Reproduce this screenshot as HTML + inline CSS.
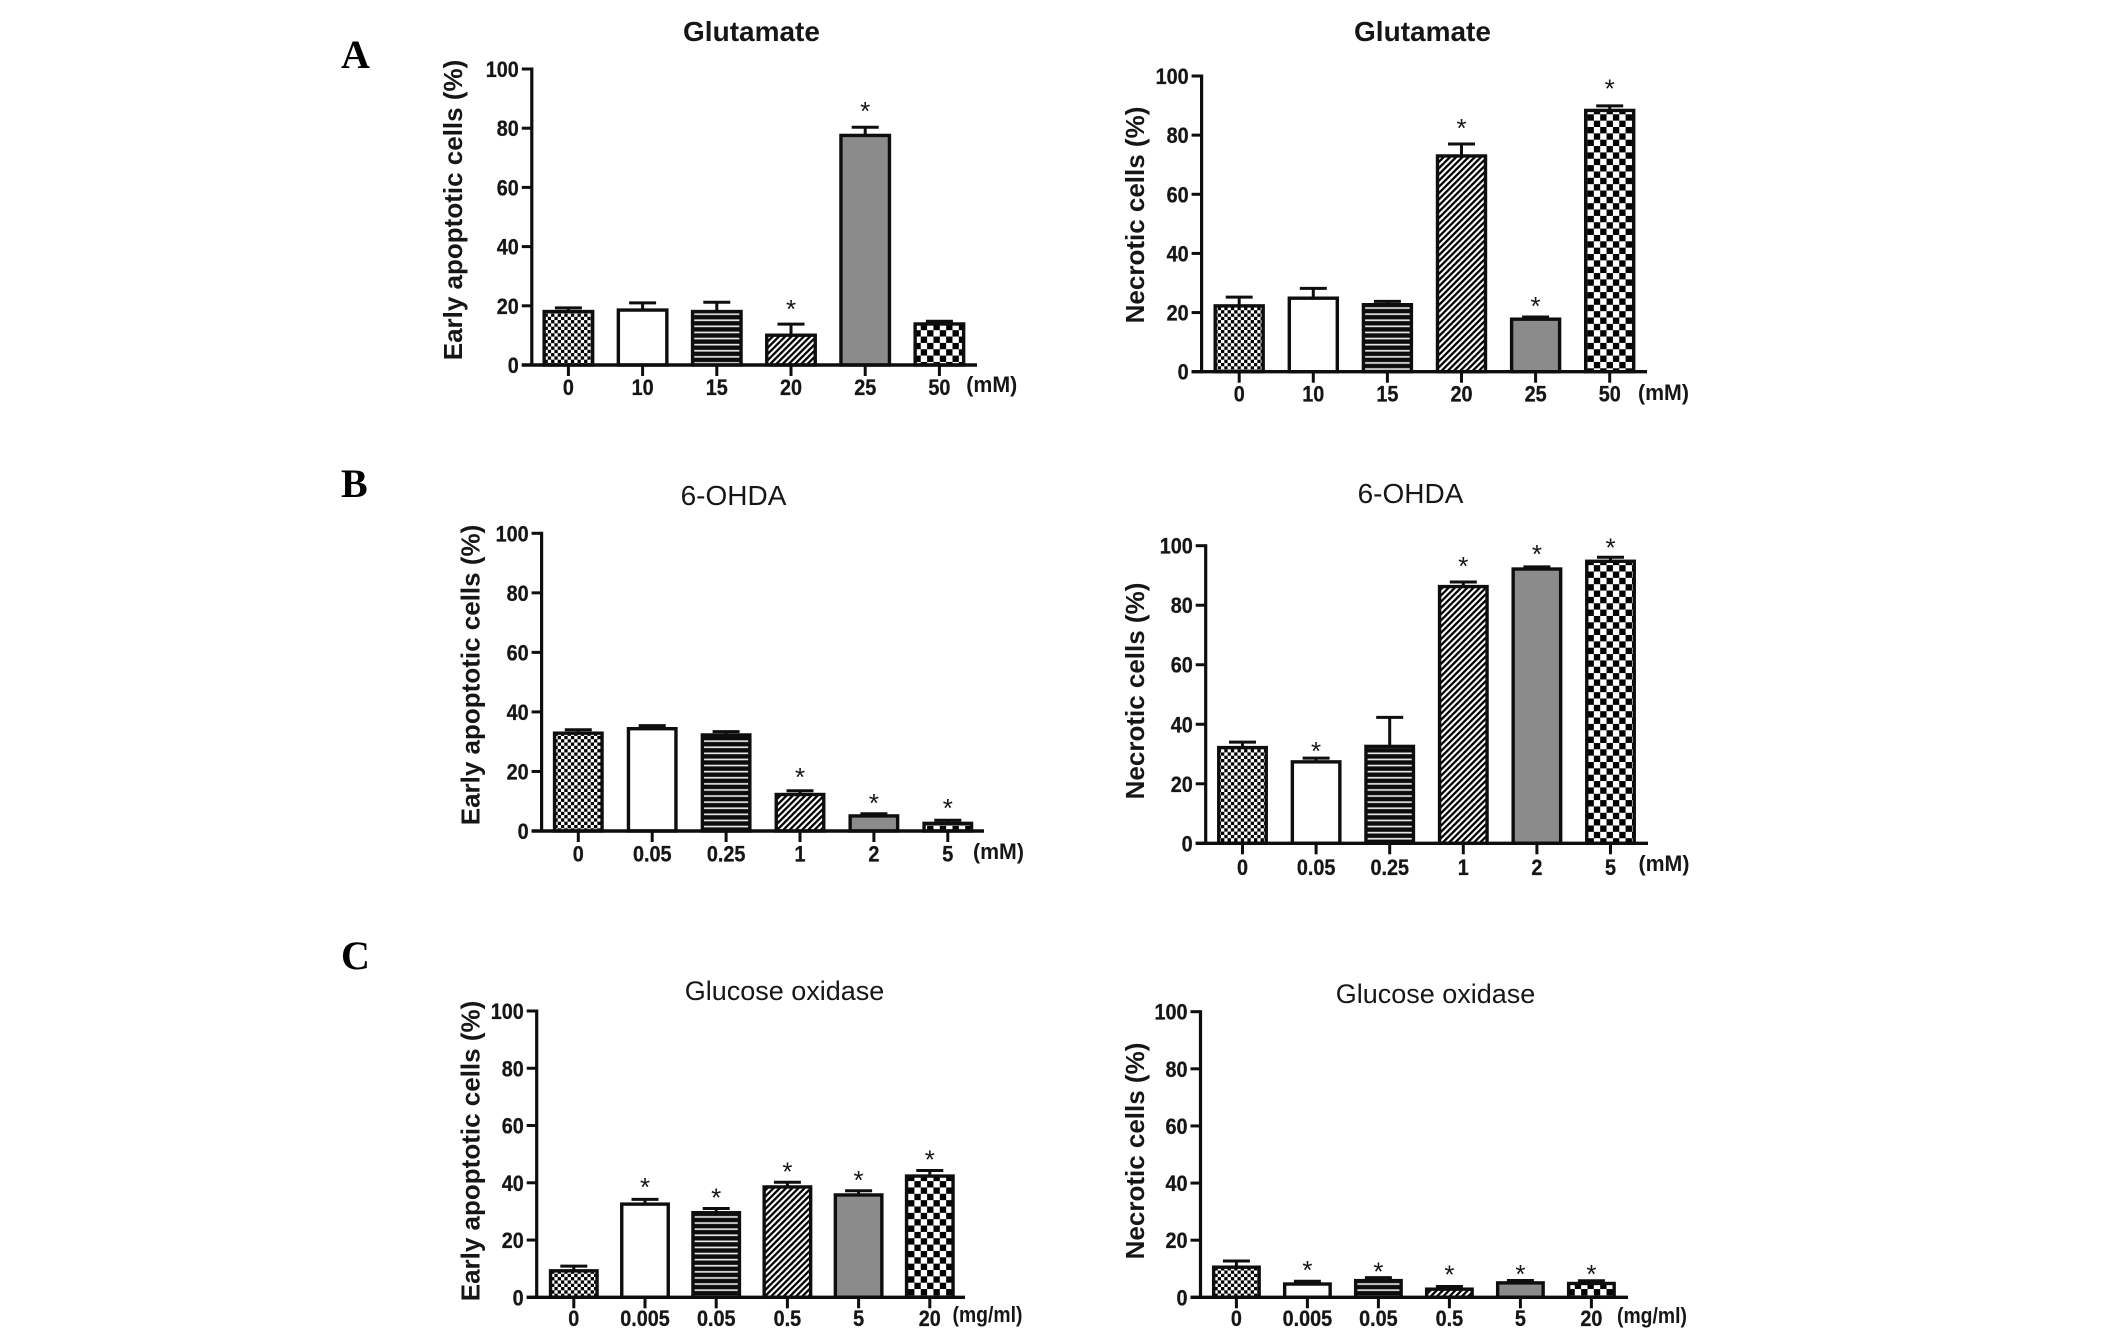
<!DOCTYPE html>
<html lang="en">
<head>
<meta charset="utf-8">
<title>Early apoptotic and necrotic cells</title>
<style>
html,body{margin:0;padding:0;background:#fff;}
#figure{display:block;width:2126px;height:1338px;filter:blur(.35px);}
text{font-family:"Liberation Sans",Arial,sans-serif;fill:#161616;}
.title-b{font-size:28px;font-weight:700;text-anchor:middle;}
.title-r{font-size:28px;font-weight:400;text-anchor:middle;}
.ytitle{font-size:26px;font-weight:700;text-anchor:middle;}
.unit{font-size:22px;font-weight:700;}
.panel{font-family:"Liberation Serif",serif;font-size:40px;font-weight:700;fill:#000;}
.tick{font-size:22px;font-weight:700;stroke:#161616;stroke-width:.3px;}
.star{font-size:26px;font-weight:400;text-anchor:middle;}
</style>
</head>
<body>
<svg id="figure" xmlns="http://www.w3.org/2000/svg" width="2126" height="1338" viewBox="0 0 2126 1338">
<defs>
<pattern id="p-fine" width="6.6" height="6.6" patternUnits="userSpaceOnUse">
<rect width="6.6" height="6.6" fill="#fff"/>
<rect width="3.3" height="3.3" fill="#000"/>
<rect x="3.3" y="3.3" width="3.3" height="3.3" fill="#000"/>
</pattern>
<pattern id="p-white" width="10" height="10" patternUnits="userSpaceOnUse">
<rect width="10" height="10" fill="#fff"/>
</pattern>
<pattern id="p-stripes" width="6.1" height="6.1" patternUnits="userSpaceOnUse">
<rect width="6.1" height="6.1" fill="#0c0c0c"/>
<rect y="2.2" width="6.1" height="1.7" fill="#e4e4e4"/>
</pattern>
<pattern id="p-diag" width="4.4" height="4.4" patternUnits="userSpaceOnUse" patternTransform="rotate(-45)">
<rect width="4.4" height="4.4" fill="#fff"/>
<rect width="4.4" height="2.3" fill="#000"/>
</pattern>
<pattern id="p-gray" width="10" height="10" patternUnits="userSpaceOnUse">
<rect width="10" height="10" fill="#8b8b8b"/>
</pattern>
<pattern id="p-check" width="12.7" height="12.7" patternUnits="userSpaceOnUse">
<rect width="12.7" height="12.7" fill="#fff"/>
<rect width="6.35" height="6.35" fill="#000"/>
<rect x="6.35" y="6.35" width="6.35" height="6.35" fill="#000"/>
</pattern>
</defs>

<text class="panel" x="341" y="68">A</text>
<text class="panel" x="341" y="497">B</text>
<text class="panel" x="341" y="969">C</text>

<text class="title-b" x="751.5" y="41">Glutamate</text>
<text class="title-b" x="1422.5" y="41">Glutamate</text>
<text class="title-r" x="733.5" y="505">6-OHDA</text>
<text class="title-r" x="1410.5" y="503">6-OHDA</text>
<text class="title-r" x="784.5" y="1000" style="font-size:27px">Glucose oxidase</text>
<text class="title-r" x="1435.5" y="1003" style="font-size:27px">Glucose oxidase</text>

<text class="ytitle" transform="translate(462,210) rotate(-90)">Early apoptotic cells (%)</text>
<text class="ytitle" transform="translate(1144,215) rotate(-90)">Necrotic cells (%)</text>
<text class="ytitle" transform="translate(479.5,675) rotate(-90)">Early apoptotic cells (%)</text>
<text class="ytitle" transform="translate(1144,691) rotate(-90)">Necrotic cells (%)</text>
<text class="ytitle" transform="translate(479.5,1151) rotate(-90)">Early apoptotic cells (%)</text>
<text class="ytitle" transform="translate(1144,1151) rotate(-90)">Necrotic cells (%)</text>

<text class="unit" transform="translate(966.3,392) scale(.97,1)">(mM)</text>
<text class="unit" transform="translate(1638,400) scale(.97,1)">(mM)</text>
<text class="unit" transform="translate(973,859) scale(.97,1)">(mM)</text>
<text class="unit" transform="translate(1638.5,871) scale(.97,1)">(mM)</text>
<text class="unit" transform="translate(952.5,1322) scale(.88,1)">(mg/ml)</text>
<text class="unit" transform="translate(1617,1323) scale(.88,1)">(mg/ml)</text>

<g id="charts"></g>
</svg>

<script>
// Shared
const yTickValues = [0, 20, 40, 60, 80, 100];
const yTickLabels = ["0", "20", "40", "60", "80", "100"];

// Panel A
const glutamateDoses = ["0", "10", "15", "20", "25", "50"];
const aLeftValues = [18.5, 19, 18.5, 10.5, 78, 14.3];
const aLeftErrorTops = [19.3, 21, 21.2, 13.8, 80.3, 14.8];
const aLeftStarred = [false, false, false, true, true, false];
const aLeftStarGaps = [0, 0, 0, 6.5, 6.8, 0];
const aRightValues = [22.7, 25.3, 23.1, 73.4, 18.2, 88.8];
const aRightErrorTops = [25.2, 28.2, 23.8, 77, 18.5, 89.9];
const aRightStarred = [false, false, false, true, true, true];
const aRightStarGaps = [0, 0, 0, 6.8, 5, 7.3];

// Panel B
const ohdaDoses = ["0", "0.05", "0.25", "1", "2", "5"];
const bLeftValues = [33.3, 34.8, 32.7, 12.7, 5.5, 3];
const bLeftErrorTops = [34, 35.4, 33.4, 13.5, 5.8, 3.6];
const bLeftStarred = [false, false, false, true, true, true];
const bLeftStarGaps = [0, 0, 0, 5.9, 4.9, 5.4];
const bRightValues = [32.6, 27.8, 33, 86.7, 92.6, 95.2];
const bRightErrorTops = [34, 28.6, 42.3, 87.8, 92.9, 96.1];
const bRightStarred = [false, true, false, true, true, true];
const bRightStarGaps = [0, 3.7, 0, 6.8, 5.7, 4.7];

// Panel C
const gluOxDoses = ["0", "0.005", "0.05", "0.5", "5", "20"];
const cLeftValues = [9.7, 33, 30, 39, 36.2, 42.8];
const cLeftErrorTops = [10.9, 34.2, 31, 40.2, 37.2, 44.3];
const cLeftStarred = [false, true, true, true, true, true];
const cLeftStarGaps = [0, 5.7, 5.3, 5.2, 5.2, 5.2];
const cRightValues = [11, 5.1, 6.3, 3.3, 5.5, 5.3];
const cRightErrorTops = [12.7, 5.6, 6.9, 3.8, 5.9, 5.8];
const cRightStarred = [false, true, true, true, true, true];
const cRightStarGaps = [0, 5.3, 3.5, 5.5, 3.6, 3.7];

const barFills = ["url(#p-fine)", "url(#p-white)", "url(#p-stripes)", "url(#p-diag)", "url(#p-gray)", "url(#p-check)"];
const NS = "http://www.w3.org/2000/svg";
const INK = "#0e0e0e";
const BAR_STROKE = 3.4;

function make(parent, tag, attrs, text) {
  const el = document.createElementNS(NS, tag);
  for (const k in attrs) el.setAttribute(k, attrs[k]);
  if (text !== undefined) el.textContent = text;
  parent.appendChild(el);
  return el;
}

function drawChart(cfg) {
  const root = document.getElementById("charts");
  const g = make(root, "g", {});
  
  

  const yScale = function (v) { return cfg.y0 + (cfg.y100 - cfg.y0) * v / 100; };
  const xScale = function (i) { return cfg.firstTick + cfg.step * i; };

  // bars and error bars first so the axis sits on top
  cfg.values.forEach(function (v, i) {
    const cx = xScale(i);
    const top = yScale(v) + BAR_STROKE / 2 - 0.4;
    const err = yScale(cfg.errors[i]);

    const stem = make(g, "line", { x1: cx, x2: cx, y1: top, y2: err, stroke: INK, "stroke-width": 3 });
    
    

    const cap = make(g, "line", { x1: cx - 13.5, x2: cx + 13.5, y1: err, y2: err, stroke: INK, "stroke-width": 3 });
    
    

    const bar = make(g, "rect", {
      x: cx - cfg.barWidth / 2, y: top,
      width: cfg.barWidth, height: Math.max(0, cfg.y0 - top),
      fill: barFills[i], stroke: INK, "stroke-width": BAR_STROKE
    });
    
    

    if (cfg.starred[i]) {
      const star = make(g, "text", { class: "star", x: cx, y: yScale(cfg.errors[i] + cfg.starGaps[i]) + 13 }, "*");
      
      
    }

    const tick = make(g, "line", { x1: cx, x2: cx, y1: cfg.y0, y2: cfg.y0 + 11, stroke: INK, "stroke-width": 3 });
    
    

    const label = make(g, "text", {
      class: "tick", "text-anchor": "middle",
      transform: "translate(" + cx + "," + (cfg.y0 + cfg.labelDrop) + ") scale(" + cfg.labelScale + ",1)"
    }, cfg.labels[i]);
    
    
  });

  const yAxis = make(g, "line", { x1: cfg.axisX, x2: cfg.axisX, y1: cfg.y100 - 1.5, y2: cfg.y0 + 1.5, stroke: INK, "stroke-width": 3.2 });
  
  

  const xAxis = make(g, "line", { x1: cfg.axisX - 10, x2: cfg.axisEnd, y1: cfg.y0, y2: cfg.y0, stroke: INK, "stroke-width": 3.4 });
  
  

  yTickValues.forEach(function (v, i) {
    const y = yScale(v);
    const tick = make(g, "line", { x1: cfg.axisX - 10, x2: cfg.axisX, y1: y, y2: y, stroke: INK, "stroke-width": 3 });
    
    

    const label = make(g, "text", {
      class: "tick", "text-anchor": "end",
      transform: "translate(" + (cfg.axisX - 13) + "," + (y + 8) + ") scale(.9,1)"
    }, yTickLabels[i]);
    
    
  });
}

drawChart({ name: "chart-a-left-early-apoptotic", y0: 365, y100: 69, axisX: 531.8, axisEnd: 977, firstTick: 568.4, step: 74.2, barWidth: 48.5, labelDrop: 30, labelScale: .9,
  labels: glutamateDoses, values: aLeftValues, errors: aLeftErrorTops, starred: aLeftStarred, starGaps: aLeftStarGaps });
drawChart({ name: "chart-a-right-necrotic", y0: 371.7, y100: 76, axisX: 1201.6, axisEnd: 1647, firstTick: 1239.2, step: 74.1, barWidth: 48, labelDrop: 30, labelScale: .9,
  labels: glutamateDoses, values: aRightValues, errors: aRightErrorTops, starred: aRightStarred, starGaps: aRightStarGaps });
drawChart({ name: "chart-b-left-early-apoptotic", y0: 831, y100: 533.3, axisX: 541.6, axisEnd: 984, firstTick: 578.3, step: 73.9, barWidth: 47.5, labelDrop: 30.5, labelScale: .9,
  labels: ohdaDoses, values: bLeftValues, errors: bLeftErrorTops, starred: bLeftStarred, starGaps: bLeftStarGaps });
drawChart({ name: "chart-b-right-necrotic", y0: 843.3, y100: 545.7, axisX: 1205.7, axisEnd: 1648, firstTick: 1242.5, step: 73.6, barWidth: 47.5, labelDrop: 31.7, labelScale: .9,
  labels: ohdaDoses, values: bRightValues, errors: bRightErrorTops, starred: bRightStarred, starGaps: bRightStarGaps });
drawChart({ name: "chart-c-left-early-apoptotic", y0: 1297.3, y100: 1011, axisX: 536.7, axisEnd: 965, firstTick: 573.8, step: 71.2, barWidth: 46.5, labelDrop: 28.7, labelScale: .9,
  labels: gluOxDoses, values: cLeftValues, errors: cLeftErrorTops, starred: cLeftStarred, starGaps: cLeftStarGaps });
drawChart({ name: "chart-c-right-necrotic", y0: 1297.3, y100: 1011.7, axisX: 1200.5, axisEnd: 1628, firstTick: 1236.4, step: 71, barWidth: 45.5, labelDrop: 28.7, labelScale: .9,
  labels: gluOxDoses, values: cRightValues, errors: cRightErrorTops, starred: cRightStarred, starGaps: cRightStarGaps });
</script>
</body>
</html>
